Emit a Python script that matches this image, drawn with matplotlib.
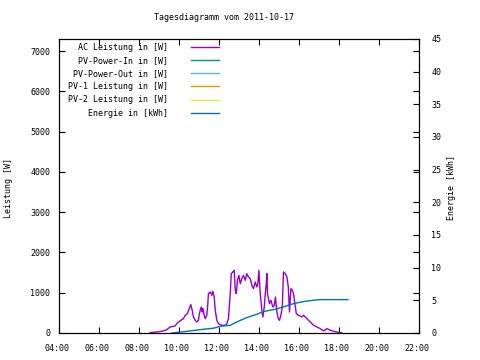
import matplotlib
matplotlib.use("Agg")
import matplotlib.pyplot as plt
import matplotlib.transforms as mtransforms
from matplotlib.ticker import FixedLocator, FuncFormatter

# AC power (W) over the day, time as decimal hours
ac_hours = [8.57, 8.90, 9.23, 9.40, 9.57, 9.82, 9.90, 9.98, 10.15, 10.23, 10.32, 10.43,
            10.52, 10.60, 10.67, 10.73, 10.82, 10.90, 10.98, 11.03, 11.07, 11.12, 11.17,
            11.20, 11.27, 11.32, 11.40, 11.45, 11.48, 11.57, 11.65, 11.70, 11.77, 11.82,
            11.90, 11.98, 12.15, 12.32, 12.40, 12.48, 12.57, 12.62, 12.70, 12.77, 12.82,
            12.87, 12.93, 13.00, 13.07, 13.15, 13.23, 13.32, 13.40, 13.48, 13.57, 13.65,
            13.73, 13.82, 13.90, 13.95, 14.00, 14.07, 14.15, 14.20, 14.27, 14.32, 14.37,
            14.40, 14.43, 14.53, 14.60, 14.70, 14.77, 14.83, 14.90, 14.97, 15.03, 15.10,
            15.17, 15.23, 15.32, 15.40, 15.47, 15.53, 15.60, 15.67, 15.73, 15.80, 15.87,
            15.98, 16.15, 16.23, 16.32, 16.40, 16.57, 16.73, 16.90, 17.07, 17.23, 17.40,
            17.57, 17.73, 17.90, 18.07, 18.15]
ac_watts = [10, 25, 50, 83, 150, 175, 232, 273, 331, 356, 439, 480,
            605, 704, 563, 398, 315, 273, 315, 480, 563, 646, 522,
            605, 439, 356, 439, 729, 977, 1018, 936, 1035, 894, 563,
            315, 232, 191, 191, 232, 356, 977, 1474, 1515, 1557, 1060,
            977, 1308, 1432, 1225, 1350, 1432, 1308, 1474, 1391, 1350, 1184,
            1101, 1267, 1143, 1225, 1557, 977, 563, 398, 646, 977, 1225,
            1474, 977, 729, 812, 646, 687, 894, 522, 356, 315, 439,
            646, 1515, 1474, 1391, 1143, 522, 1101, 1060, 977, 729, 480,
            439, 398, 439, 398, 356, 273, 191, 150, 108, 50, 108,
            67, 42, 25, 9, 0]

# cumulative energy (kWh)
energy_hours = [9.65, 10.57, 11.23, 11.73, 12.07, 12.57, 12.90, 13.40, 13.90, 14.23,
                14.73, 15.23, 15.73, 16.23, 16.73, 17.07, 18.45]
energy_kwh = [0.0, 0.32, 0.57, 0.73, 1.03, 1.18, 1.70, 2.36, 2.87, 3.28,
              3.58, 3.99, 4.50, 4.81, 5.01, 5.11, 5.11]

# series without data on this day (legend only)
pv_in_hours, pv_in_watts = [], []
pv_out_hours, pv_out_watts = [], []
pv1_hours, pv1_watts = [], []
pv2_hours, pv2_watts = [], []

hour_ticks = [4, 6, 8, 10, 12, 14, 16, 18, 20, 22]
watt_ticks = [0, 1000, 2000, 3000, 4000, 5000, 6000, 7000]
kwh_ticks = [0, 5, 10, 15, 20, 25, 30, 35, 40, 45]

plt.rcParams['font.family'] = ['DejaVu Sans Mono']
plt.rcParams['font.size'] = 6

fig = plt.figure(figsize=(4.8, 3.6), dpi=100)
ax = fig.add_axes([58.7 / 480, 1 - 333 / 360, 360.3 / 480, 294 / 360])
ax2 = ax.twinx()

l_ac, = ax.plot(ac_hours, ac_watts, color='#9400D3', lw=1.0, label='AC Leistung in [W]')
l_in, = ax.plot(pv_in_hours, pv_in_watts, color='#009E73', lw=1.0, label='PV-Power-In in [W]')
l_out, = ax.plot(pv_out_hours, pv_out_watts, color='#56B4E9', lw=1.0, label='PV-Power-Out in [W]')
l_pv1, = ax.plot(pv1_hours, pv1_watts, color='#E69F00', lw=1.0, label='PV-1 Leistung in [W]')
l_pv2, = ax.plot(pv2_hours, pv2_watts, color='#F0E442', lw=1.0, label='PV-2 Leistung in [W]')
l_en, = ax2.plot(energy_hours, energy_kwh, color='#0072B2', lw=1.0, label='Energie in [kWh]')

ax.set_xlim(4, 22)
ax.set_ylim(0, 7300)
ax2.set_ylim(0, 45)

ax.xaxis.set_major_locator(FixedLocator(hour_ticks))
ax.xaxis.set_major_formatter(FuncFormatter(lambda v, p: "%02d:00" % int(round(v))))
ax.yaxis.set_major_locator(FixedLocator(watt_ticks))
ax2.yaxis.set_major_locator(FixedLocator(kwh_ticks))

ax.tick_params(axis='both', direction='in', length=4, width=0.8, colors='black',
               top=True, right=True, labelsize=6)
ax.tick_params(axis='x', pad=8)
ax.tick_params(axis='y', pad=6)
ax2.tick_params(axis='y', direction='in', length=4, width=0.8, labelsize=6, pad=9)
for a in (ax, ax2):
    for s in a.spines.values():
        s.set_linewidth(0.8)

# gnuplot puts the time labels slightly left of the tick
shift = mtransforms.ScaledTranslation(-2 / 100, 0, fig.dpi_scale_trans)
for lbl in ax.get_xticklabels():
    lbl.set_transform(lbl.get_transform() + shift)

handles = [l_ac, l_in, l_out, l_pv1, l_pv2, l_en]
leg = ax.legend(handles, [h.get_label() for h in handles], loc='upper right',
                bbox_to_anchor=((219 - 58.7) / 360.3, 0.987), frameon=False,
                markerfirst=False, handlelength=3.4, handletextpad=2.7,
                labelspacing=0.5, borderpad=0, borderaxespad=0, fontsize=6)

fig.text(224 / 480, 1 - 18 / 360, "Tagesdiagramm vom 2011-10-17", ha='center', va='center', fontsize=6)
fig.text(9 / 480, 1 - 188 / 360, "Leistung [W]", rotation=90, ha='center', va='center', fontsize=6)
fig.text(452 / 480, 1 - 188 / 360, "Energie [kWh]", rotation=90, ha='center', va='center', fontsize=6)

fig.savefig("out.png", dpi=100)
